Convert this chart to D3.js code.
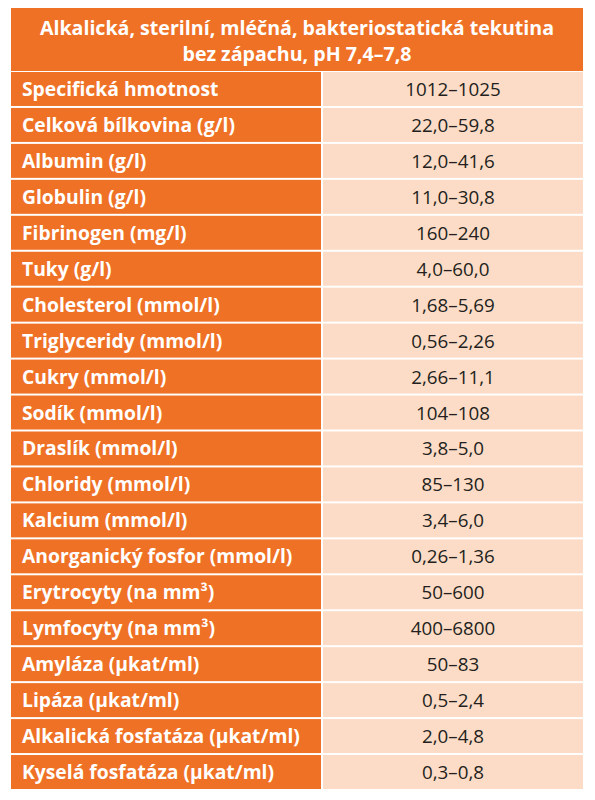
<!DOCTYPE html>
<html><head><meta charset="utf-8">
<script src="https://cdn.jsdelivr.net/npm/d3@7"></script>
<style>body{margin:0;background:#fff}</style>
</head><body>
<div id="chart"></div>
<script>
var title = ["Alkalická, sterilní, mléčná, bakteriostatická tekutina", "bez zápachu, pH 7,4–7,8"];
var labels = ["Specifická hmotnost","Celková bílkovina (g/l)","Albumin (g/l)","Globulin (g/l)",
  "Fibrinogen (mg/l)","Tuky (g/l)","Cholesterol (mmol/l)","Triglyceridy (mmol/l)","Cukry (mmol/l)",
  "Sodík (mmol/l)","Draslík (mmol/l)","Chloridy (mmol/l)","Kalcium (mmol/l)",
  "Anorganický fosfor (mmol/l)","Erytrocyty (na mm³)","Lymfocyty (na mm³)","Amyláza (µkat/ml)",
  "Lipáza (µkat/ml)","Alkalická fosfatáza (µkat/ml)","Kyselá fosfatáza (µkat/ml)"];
var values = ["1012–1025","22,0–59,8","12,0–41,6","11,0–30,8","160–240","4,0–60,0","1,68–5,69",
  "0,56–2,26","2,66–11,1","104–108","3,8–5,0","85–130","3,4–6,0","0,26–1,36","50–600",
  "400–6800","50–83","0,5–2,4","2,0–4,8","0,3–0,8"];

var W = 595, H = 800, left = 11, right = 583, split = 322;
var orange = "#ef7126", peach = "#fcdcc6";
var font = "'Open Sans', 'Noto Sans', sans-serif";

var svg = d3.select("#chart").append("svg").attr("width", W).attr("height", H);

// header
svg.append("rect").attr("x", left).attr("y", 8).attr("width", right - left).attr("height", 63).attr("fill", orange);
svg.selectAll("text.title").data(title).enter().append("text")
  .attr("x", (left + right) / 2).attr("y", function(d, i) { return 35 + i * 26; })
  .attr("text-anchor", "middle").attr("fill", "#fff")
  .attr("font-family", font).attr("font-weight", "bold").attr("font-size", "19.6px")
  .text(function(d) { return d; });

var y = d3.scaleBand().domain(d3.range(labels.length)).range([72, 789]).paddingInner(0.055);

var rows = svg.selectAll("g.row").data(labels).enter().append("g")
  .attr("transform", function(d, i) { return "translate(0," + y(i) + ")"; });
rows.append("rect").attr("x", left).attr("width", split - left - 1).attr("height", y.bandwidth()).attr("fill", orange);
rows.append("rect").attr("x", split + 1).attr("width", right - split - 1).attr("height", y.bandwidth()).attr("fill", peach);
rows.append("text").attr("x", 22).attr("y", y.bandwidth() / 2 + 7)
  .attr("fill", "#fff").attr("font-family", font).attr("font-weight", "bold").attr("font-size", "19.3px")
  .text(function(d) { return d; });
rows.append("text").attr("x", 453).attr("y", y.bandwidth() / 2 + 7).attr("text-anchor", "middle")
  .attr("fill", "#231f20").attr("font-family", font).attr("font-size", "18.8px")
  .text(function(d, i) { return values[i]; });
</script>
</body></html>
